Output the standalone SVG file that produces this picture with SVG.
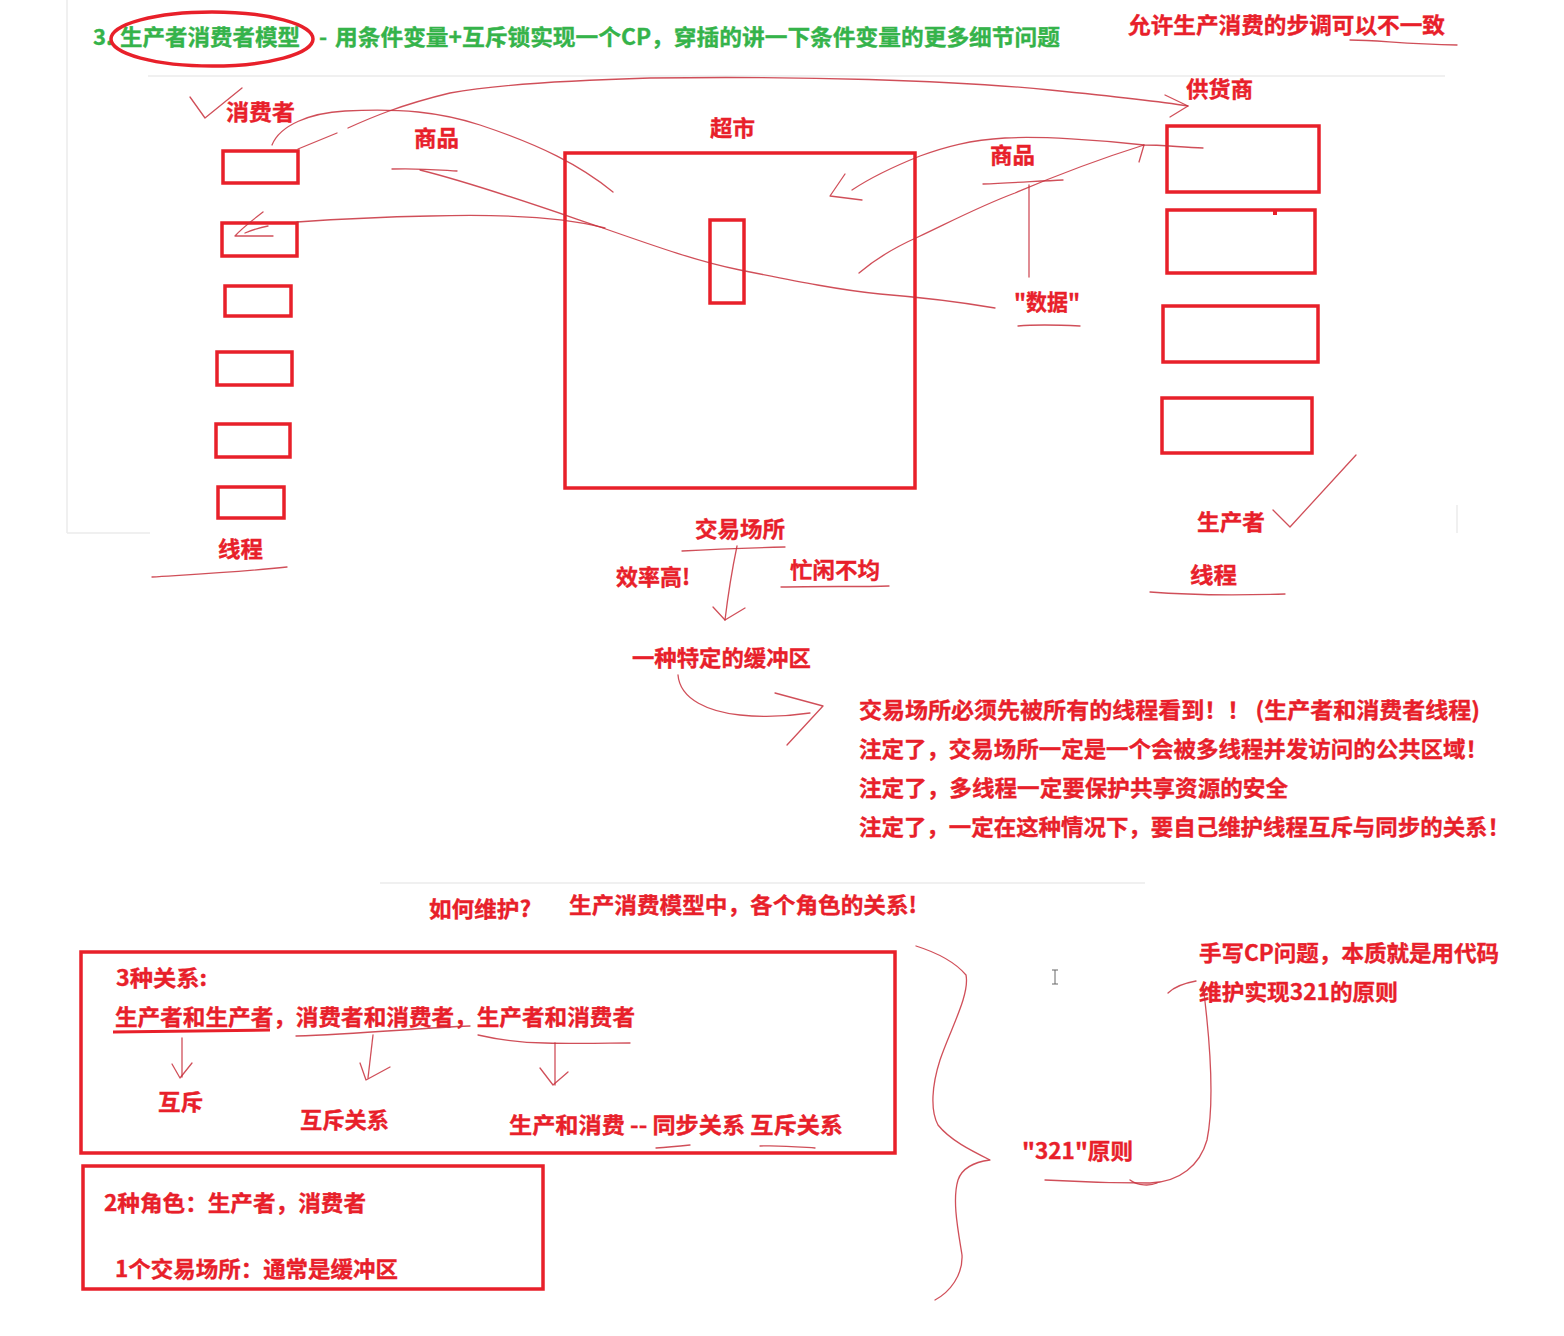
<svg xmlns="http://www.w3.org/2000/svg" width="1564" height="1336" viewBox="0 0 1564 1336">
<style>
.t{font-family:"Noto Sans CJK SC","Microsoft YaHei",sans-serif;font-weight:bold;font-size:22px;fill:#e8202a;stroke:#e8202a;stroke-width:.35}
.g{font-family:"Noto Sans CJK SC","Microsoft YaHei",sans-serif;font-weight:bold;font-size:22px;fill:#35b34a;stroke:#35b34a;stroke-width:.35}
.box{fill:none;stroke:#e8202a;stroke-width:3.5}
.pen{fill:none;stroke:#c8303c;stroke-width:1.3;stroke-linecap:round;stroke-linejoin:round;opacity:.85}
.sep{fill:none;stroke:#ececec;stroke-width:1.5}
</style>
<rect width="1564" height="1336" fill="#fff"/>
<g id="separators">
<path class="sep" d="M67 0V533M67 533H150M148 76H1445M1457 505V533M380 883H1145"/>
</g>
<g id="header">
<text class="g" x="93" y="45">3.</text>
<text class="g" x="120" y="45" textLength="180" lengthAdjust="spacingAndGlyphs">生产者消费者模型</text>
<text class="g" x="319" y="45">-</text>
<text class="g" x="335" y="45" textLength="725" lengthAdjust="spacingAndGlyphs">用条件变量+互斥锁实现一个CP，穿插的讲一下条件变量的更多细节问题</text>
<ellipse cx="212" cy="39" rx="101" ry="27" fill="none" stroke="#e8202a" stroke-width="3.5"/>
<text class="t" x="1128" y="33" textLength="317" lengthAdjust="spacingAndGlyphs">允许生产消费的步调可以不一致</text>
<path class="pen" d="M1350 40C1380 40 1400 44 1457 45"/>
</g>
<g id="consumers">
<text class="t" x="226" y="120" textLength="69" lengthAdjust="spacingAndGlyphs">消费者</text>
<path class="pen" d="M190 97L205 118L242 88"/>
<rect class="box" x="223" y="151" width="75" height="32"/>
<rect class="box" x="222" y="223" width="75" height="33"/>
<rect class="box" x="225" y="286" width="66" height="30"/>
<rect class="box" x="217" y="352" width="75" height="33"/>
<rect class="box" x="216" y="424" width="74" height="33"/>
<rect class="box" x="218" y="487" width="66" height="31"/>
<text class="t" x="218" y="557" textLength="45" lengthAdjust="spacingAndGlyphs">线程</text>
<path class="pen" d="M152 577C200 574 240 572 287 567"/>
</g>
<g id="supermarket">
<text class="t" x="710" y="136" textLength="45" lengthAdjust="spacingAndGlyphs">超市</text>
<rect class="box" x="565" y="153" width="350" height="335"/>
<rect class="box" x="710" y="220" width="34" height="83"/>
<text class="t" x="414" y="146" textLength="45" lengthAdjust="spacingAndGlyphs">商品</text>
<text class="t" x="990" y="163" textLength="45" lengthAdjust="spacingAndGlyphs">商品</text>
<text class="t" x="1014" y="310" textLength="66" lengthAdjust="spacingAndGlyphs">"数据"</text>
<path class="pen" d="M1018 326C1040 324 1060 325 1080 326"/>
<text class="t" x="695" y="537" textLength="90" lengthAdjust="spacingAndGlyphs">交易场所</text>
<text class="t" x="616" y="585" textLength="74" lengthAdjust="spacingAndGlyphs">效率高!</text>
<text class="t" x="790" y="578" textLength="90" lengthAdjust="spacingAndGlyphs">忙闲不均</text>
<text class="t" x="632" y="666" textLength="179" lengthAdjust="spacingAndGlyphs">一种特定的缓冲区</text>
</g>
<g id="suppliers">
<text class="t" x="1186" y="97" textLength="67" lengthAdjust="spacingAndGlyphs">供货商</text>
<rect class="box" x="1167" y="126" width="152" height="66"/>
<rect class="box" x="1167" y="210" width="148" height="63"/>
<rect x="1273" y="210" width="4" height="5" fill="#e8202a"/>
<rect class="box" x="1163" y="306" width="155" height="56"/>
<rect class="box" x="1162" y="398" width="150" height="55"/>
<text class="t" x="1197" y="530" textLength="68" lengthAdjust="spacingAndGlyphs">生产者</text>
<path class="pen" d="M1273 510L1290 527L1356 455"/>
<text class="t" x="1190" y="583" textLength="47" lengthAdjust="spacingAndGlyphs">线程</text>
<path class="pen" d="M1150 592C1200 596 1250 595 1285 594"/>
</g>
<g id="notes">
<text class="t" x="859" y="718" textLength="621" lengthAdjust="spacingAndGlyphs">交易场所必须先被所有的线程看到！！ (生产者和消费者线程)</text>
<text class="t" x="859" y="757" textLength="629" lengthAdjust="spacingAndGlyphs">注定了，交易场所一定是一个会被多线程并发访问的公共区域！</text>
<text class="t" x="859" y="796" textLength="429" lengthAdjust="spacingAndGlyphs">注定了，多线程一定要保护共享资源的安全</text>
<text class="t" x="859" y="835" textLength="651" lengthAdjust="spacingAndGlyphs">注定了，一定在这种情况下，要自己维护线程互斥与同步的关系！</text>
<text class="t" x="429" y="917" textLength="102" lengthAdjust="spacingAndGlyphs">如何维护?</text>
<text class="t" x="569" y="913" textLength="348" lengthAdjust="spacingAndGlyphs">生产消费模型中，各个角色的关系!</text>
</g>
<g id="relations">
<rect class="box" x="81" y="952" width="814" height="201"/>
<text class="t" x="116" y="986" textLength="91" lengthAdjust="spacingAndGlyphs">3种关系:</text>
<text class="t" x="115" y="1025" textLength="520" lengthAdjust="spacingAndGlyphs">生产者和生产者，消费者和消费者，生产者和消费者</text>
<path d="M113 1032L270 1030" stroke="#e8202a" stroke-width="3" fill="none"/>
<text class="t" x="158" y="1110" textLength="45" lengthAdjust="spacingAndGlyphs">互斥</text>
<text class="t" x="300" y="1128" textLength="89" lengthAdjust="spacingAndGlyphs">互斥关系</text>
<text class="t" x="509" y="1133" textLength="334" lengthAdjust="spacingAndGlyphs">生产和消费 -- 同步关系 互斥关系</text>
</g>
<g id="roles">
<rect class="box" x="83" y="1166" width="460" height="123"/>
<text class="t" x="104" y="1211" textLength="262" lengthAdjust="spacingAndGlyphs">2种角色：生产者，消费者</text>
<text class="t" x="115" y="1277" textLength="283" lengthAdjust="spacingAndGlyphs">1个交易场所：通常是缓冲区</text>
</g>
<g id="principle">
<text class="t" x="1199" y="961" textLength="300" lengthAdjust="spacingAndGlyphs">手写CP问题，本质就是用代码</text>
<text class="t" x="1199" y="1000" textLength="199" lengthAdjust="spacingAndGlyphs">维护实现321的原则</text>
<text class="t" x="1022" y="1159" textLength="111" lengthAdjust="spacingAndGlyphs">"321"原则</text>
<path d="M1052 970H1058M1055 970V984M1052 984H1058" stroke="#666" stroke-width="1" fill="none"/>
</g>
<g id="connectors">
<path class="pen" d="M272 145C280 125 310 113 345 111C400 108 440 112 480 125C540 145 580 165 613 192"/>
<path class="pen" d="M298 149C315 142 330 136 337 133M348 128C370 118 400 105 450 93C500 84 580 80 650 78C800 76 950 80 1050 90C1110 96 1150 100 1188 106"/>
<path class="pen" d="M1165 95L1188 106L1170 117"/>
<path class="pen" d="M392 169C420 168 440 170 457 171"/>
<path class="pen" d="M420 170C480 185 550 210 600 227C660 248 700 262 740 270C800 282 840 290 880 294C930 298 960 302 995 308"/>
<path class="pen" d="M297 222C340 219 380 217 430 216C500 214 560 216 605 228"/>
<path class="pen" d="M263 212C250 222 240 230 235 236L273 236M245 233C255 229 262 227 268 226"/>
<path class="pen" d="M1203 148C1180 147 1160 145 1144 145C1100 140 1040 136 1005 138C970 140 945 147 920 156C890 168 870 178 852 190"/>
<path class="pen" d="M845 174L830 196L862 200"/>
<path class="pen" d="M859 273C880 255 900 245 918 237C950 222 980 206 1015 193C1050 178 1090 162 1144 145"/>
<path class="pen" d="M1139 162L1144 145"/>
<path class="pen" d="M983 184C1010 183 1040 181 1063 180"/>
<path class="pen" d="M1029 185V277"/>
<path class="pen" d="M682 551C720 549 750 548 785 547"/>
<path class="pen" d="M781 587C820 586 860 587 889 586"/>
<path class="pen" d="M737 546C732 570 728 595 725 620"/>
<path class="pen" d="M713 607L725 620L745 608"/>
<path class="pen" d="M678 675C680 700 710 712 740 715C770 718 790 716 810 713"/>
<path class="pen" d="M775 693L823 706L787 745"/>
<path class="pen" d="M296 1036C360 1034 420 1028 470 1026"/>
<path class="pen" d="M478 1035C500 1040 520 1043 545 1043C580 1044 610 1043 630 1043"/>
<path class="pen" d="M182 1038V1077"/>
<path class="pen" d="M172 1064L180 1078L192 1063"/>
<path class="pen" d="M373 1035L368 1078"/>
<path class="pen" d="M360 1063L366 1080L390 1067"/>
<path class="pen" d="M555 1043V1085"/>
<path class="pen" d="M540 1068L553 1085L568 1072"/>
<path class="pen" d="M656 1148C670 1147 680 1146 690 1145"/>
<path class="pen" d="M760 1146C780 1145 800 1147 815 1148"/>
<path class="pen" d="M916 946C935 952 955 962 966 975C970 995 950 1030 940 1060C932 1085 930 1110 938 1125C950 1140 970 1150 990 1160C975 1162 962 1168 958 1180C952 1200 958 1230 962 1255C963 1275 950 1292 935 1300"/>
<path class="pen" d="M1045 1180C1080 1182 1110 1183 1150 1183C1180 1182 1200 1165 1207 1140C1215 1100 1210 1040 1203 985"/>
<path class="pen" d="M1130 1180C1138 1186 1150 1186 1157 1183"/>
<path class="pen" d="M1168 993C1175 986 1185 983 1196 981"/>
</g>
</svg>
